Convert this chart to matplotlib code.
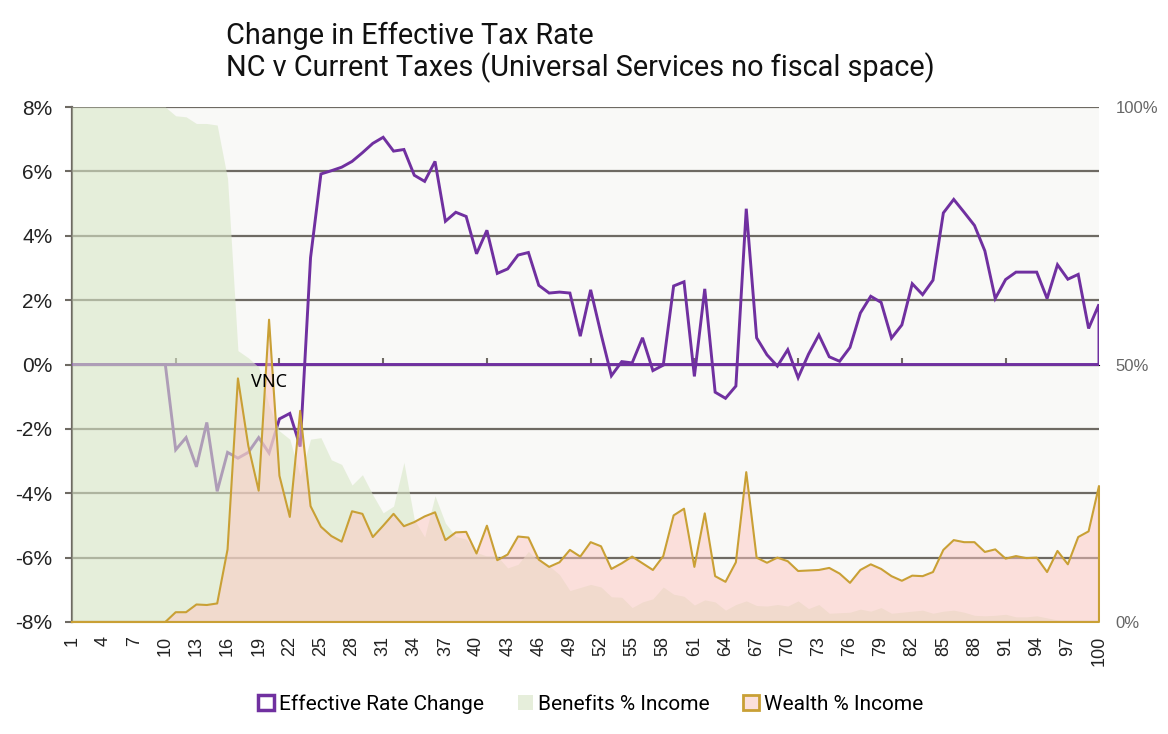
import numpy as np
import matplotlib
matplotlib.use("Agg")
import matplotlib.pyplot as plt
from matplotlib.patches import Patch
from matplotlib.ticker import FuncFormatter

# percentile groups 1..100
groups = np.arange(1, 101)

# change in effective tax rate (% points, left axis)
effective_change = [
    0, 0, 0, 0, 0, 0, 0, 0, 0, 0,
    -2.65, -2.27, -3.18, -1.80, -3.94, -2.73, -2.91, -2.73, -2.27, -2.75,
    -1.69, -1.52, -2.55, 3.32, 5.92, 6.02, 6.13, 6.31, 6.58, 6.87,
    7.06, 6.63, 6.68, 5.88, 5.69, 6.31, 4.45, 4.73, 4.60, 3.44,
    4.17, 2.83, 2.97, 3.40, 3.48, 2.46, 2.22, 2.25, 2.22, 0.88,
    2.32, 0.95, -0.35, 0.09, 0.05, 0.83, -0.19, -0.02, 2.44, 2.57,
    -0.37, 2.35, -0.86, -1.05, -0.67, 4.84, 0.83, 0.30, -0.05, 0.46,
    -0.41, 0.32, 0.92, 0.24, 0.10, 0.53, 1.60, 2.12, 1.93, 0.82,
    1.23, 2.51, 2.17, 2.62, 4.71, 5.13, 4.73, 4.32, 3.53, 2.05,
    2.64, 2.87, 2.87, 2.87, 2.05, 3.10, 2.65, 2.80, 1.12, 1.87,
]

# benefits as % of income (right axis)
benefits_pct = [
    100, 100, 100, 100, 100, 100, 100, 100, 100, 100,
    98.3, 98.1, 96.8, 96.8, 96.5, 86.1, 52.7, 51.3, 49.5, 42.0,
    37.1, 35.5, 28.4, 35.5, 35.8, 31.5, 30.6, 26.6, 28.6, 24.7,
    21.2, 22.5, 31.0, 19.9, 16.5, 24.5, 19.2, 16.6, 16.1, 13.5,
    12.8, 12.8, 10.5, 11.2, 13.7, 11.8, 10.9, 9.2, 6.1, 6.7,
    7.3, 6.8, 4.9, 4.8, 2.8, 3.9, 4.5, 6.8, 5.4, 5.0,
    3.3, 4.3, 3.9, 2.3, 3.4, 4.1, 3.2, 3.1, 3.4, 3.1,
    4.1, 2.6, 3.4, 1.7, 1.8, 1.9, 2.5, 2.1, 2.8, 1.7,
    1.9, 2.1, 2.3, 1.7, 2.1, 2.3, 1.9, 1.3, 1.2, 1.3,
    1.5, 1.0, 1.0, 1.2, 0.8, 0.4, 0.0, 0.0, 0.0, 0.0,
]

# wealth as % of income (right axis)
wealth_pct = [
    0, 0, 0, 0, 0, 0, 0, 0, 0, 0,
    1.9, 1.9, 3.4, 3.3, 3.6, 14.1, 47.3, 34.2, 25.5, 58.7,
    28.4, 20.4, 41.0, 22.5, 18.5, 16.7, 15.6, 21.5, 21.0, 16.5,
    18.7, 21.0, 18.6, 19.4, 20.5, 21.3, 15.9, 17.4, 17.5, 13.3,
    18.7, 12.0, 13.1, 16.6, 16.4, 12.1, 10.7, 11.6, 14.0, 12.7,
    15.5, 14.7, 10.3, 11.4, 12.7, 11.4, 10.1, 12.8, 20.7, 22.0,
    10.7, 21.1, 8.9, 7.8, 11.6, 29.1, 12.5, 11.5, 12.5, 11.8,
    9.9, 10.0, 10.1, 10.5, 9.4, 7.6, 10.1, 11.2, 10.3, 8.9,
    8.0, 9.0, 8.9, 9.7, 14.0, 15.9, 15.5, 15.5, 13.6, 14.1,
    12.3, 12.8, 12.4, 12.5, 9.7, 13.8, 11.2, 16.5, 17.6, 26.4,
]

x_tick_labels = [str(g) for g in range(1, 101, 3)]
left_ticks = [-8, -6, -4, -2, 0, 2, 4, 6, 8]
right_ticks = [0, 50, 100]

PURPLE = "#7030a0"
GREEN = "#d9e7c8"
PINK = "#fdc7c1"
GOLD = "#c9a035"
GRID = "#6e6a63"
PLOT_BG = "#f9f9f7"

fig = plt.figure(figsize=(11.68, 7.34), dpi=100)
ax = fig.add_axes([0.0616, 0.1526, 0.8793, 0.7016])
ax.set_facecolor(PLOT_BG)
ax2 = ax.twinx()

eff = np.array(effective_change)
ben = np.array(benefits_pct)
wea = np.array(wealth_pct)

# purple area outline (line, right edge, baseline)
ax.plot(np.r_[groups, groups[-1], groups[0]], np.r_[eff, 0, 0],
        color=PURPLE, lw=2.1, zorder=3, solid_joinstyle="miter")

ax2.fill_between(groups, 0, ben, color=GREEN, alpha=0.6, lw=0, zorder=2)
ax2.fill_between(groups, 0, wea, color=PINK, alpha=0.5, lw=0, zorder=3)
ax2.plot(np.r_[groups, groups[-1], groups[0]], np.r_[wea, 0, 0],
         color=GOLD, lw=1.5, zorder=4, clip_on=False)

# label sits above the overlay areas, positioned in left-axis units
ax2.text(20, -0.55, "VNC", fontsize=13, family="Noto Sans", ha="center",
         va="center", color="black", zorder=5, transform=ax.transData)

ax.set_xlim(1, 100)
ax.set_ylim(-8, 8)
ax2.set_ylim(0, 100)

ax.set_yticks(left_ticks)
ax.yaxis.set_major_formatter(FuncFormatter(lambda v, p: f"{v:.0f}%"))
ax.yaxis.grid(True, color=GRID, lw=1.6)
ax.set_axisbelow(True)
ax.tick_params(axis="y", direction="out", length=5, width=1.5, color=GRID,
               labelsize=15, labelcolor="#222222", pad=9)
for lbl in ax.get_yticklabels():
    lbl.set_family("Liberation Sans")

ax.set_xticks(range(1, 101, 3))
ax.set_xticklabels(x_tick_labels, rotation=90, fontsize=13,
                   family="Liberation Sans", color="#222222")
ax.tick_params(axis="x", length=0, pad=10)

ax2.set_yticks(right_ticks)
ax2.yaxis.set_major_formatter(FuncFormatter(lambda v, p: f"{v:.0f}%"))
ax2.tick_params(axis="y", length=0, labelsize=12, labelcolor="#666666", pad=12)
for lbl in ax2.get_yticklabels():
    lbl.set_family("Liberation Sans")

for s in ["top", "right", "bottom"]:
    ax.spines[s].set_visible(False)
ax.spines["left"].set_color(GRID)
ax.spines["left"].set_linewidth(1.6)
for s in ax2.spines.values():
    s.set_visible(False)

# category axis ticks crossing at 0
sec = ax.secondary_xaxis(0.5)
sec.set_xticks(range(11, 100, 10))
sec.set_xticklabels([])
sec.tick_params(axis="x", direction="out", length=5, width=1.5, color=GRID)
sec.spines["bottom"].set_visible(False)

fig.text(226 / 1168, 1 - 22 / 734,
         "Change in Effective Tax Rate\nNC v Current Taxes (Universal Services no fiscal space)",
         fontsize=20.8, family="Roboto", color="#111111", va="top", ha="left",
         linespacing=1.1)

handles = [
    Patch(facecolor="white", edgecolor=PURPLE, lw=2.5),
    Patch(facecolor="#e6eedb", edgecolor="none"),
    Patch(facecolor="#fbe0dc", edgecolor=GOLD, lw=2),
]
fig.legend(handles, ["Effective Rate Change", "Benefits % Income", "Wealth % Income"],
           loc="center", bbox_to_anchor=(0.506, 0.041), ncol=3, frameon=False,
           prop={"family": "Roboto", "size": 15}, handlelength=0.75,
           handleheight=0.75, handletextpad=0.25, columnspacing=1.6)

fig.savefig("out.png", dpi=100)
